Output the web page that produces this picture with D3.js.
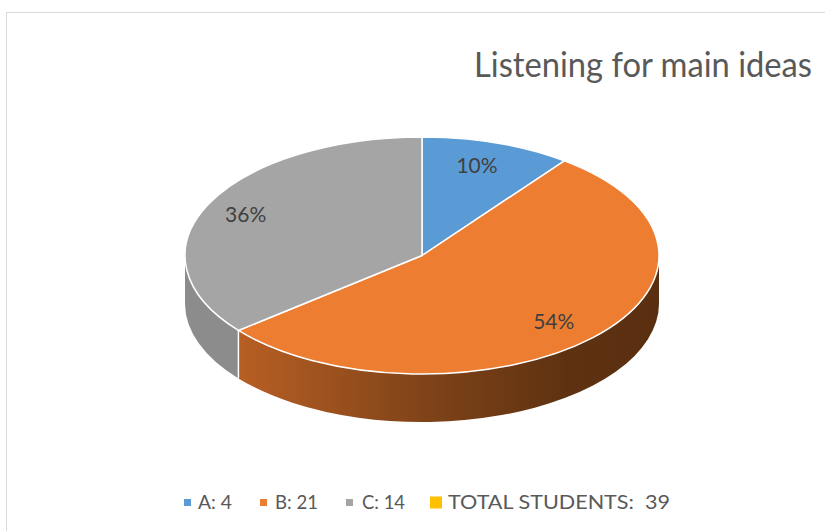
<!DOCTYPE html>
<html>
<head>
<meta charset="utf-8">
<script src="https://cdn.jsdelivr.net/npm/d3@7"></script>
<style>
  html, body { margin: 0; padding: 0; background: #fff; }
  svg { display: block; }
  text { font-family: "Lato", "Open Sans", sans-serif; white-space: pre; }
</style>
</head>
<body>
<svg id="chart" width="825" height="531"></svg>
<script>
// ---- data ----
const title = "Listening for main ideas";
const categories = ["A", "B", "C", "TOTAL STUDENTS"];
const values = [4, 21, 14, 39];
const legendLabels = ["A: 4", "B: 21", "C: 14", "TOTAL STUDENTS:  39"];
const colors = ["#5B9BD5", "#ED7D31", "#A5A5A5", "#FFC000"];
const sliceCategories = ["A", "B", "C"]; // TOTAL is shown in legend only
const sliceValues = [4, 21, 14];

// ---- layout ----
const W = 825, H = 531;
const cx = 422, cy = 255.5, rx = 237, ry = 118.5, depth = 48;
const svg = d3.select("#chart");

// chart area border
svg.append("rect")
  .attr("x", 6.5).attr("y", 12.5).attr("width", 900).attr("height", 600)
  .attr("fill", "#fff").attr("stroke", "#D9D9D9").attr("stroke-width", 1);

const defs = svg.append("defs");
const gB = defs.append("linearGradient").attr("id", "sideB")
  .attr("gradientUnits", "userSpaceOnUse")
  .attr("x1", 237).attr("x2", 659).attr("y1", 0).attr("y2", 0);
gB.append("stop").attr("offset", 0).attr("stop-color", "#B85F24");
gB.append("stop").attr("offset", 0.45).attr("stop-color", "#7F4318");
gB.append("stop").attr("offset", 0.78).attr("stop-color", "#5E3211");
gB.append("stop").attr("offset", 1).attr("stop-color", "#5A2F10");
const sideFills = ["#3E6E9A", "url(#sideB)", "#8C8C8C"];

const pie = d3.pie().sort(null).value(d => d)
  .startAngle(0).endAngle(2 * Math.PI);
const arcs = pie(sliceValues);
const total = d3.sum(sliceValues);

const proj = (a, f = 1, dz = 0) => [cx + rx * f * Math.sin(a), cy - ry * f * Math.cos(a) + dz];

// side faces (front half only: angles between PI/2 and 3PI/2)
const gSide = svg.append("g");
arcs.forEach((d, i) => {
  const s0 = Math.max(d.startAngle, Math.PI / 2);
  const s1 = Math.min(d.endAngle, 3 * Math.PI / 2);
  if (s1 <= s0) return;
  const p0 = proj(s0), p1 = proj(s1);
  const q0 = proj(s0, 1, depth), q1 = proj(s1, 1, depth);
  const path = `M${p0[0]},${p0[1]} A${rx},${ry} 0 0 1 ${p1[0]},${p1[1]} L${q1[0]},${q1[1]} A${rx},${ry} 0 0 0 ${q0[0]},${q0[1]} Z`;
  gSide.append("path").attr("d", path).attr("fill", sideFills[i]);
});
// vertical edges on the front between slices
arcs.forEach(d => {
  const a = d.endAngle;
  if (a > Math.PI / 2 && a < 3 * Math.PI / 2) {
    const p = proj(a), q = proj(a, 1, depth);
    gSide.append("line").attr("x1", p[0]).attr("y1", p[1]).attr("x2", q[0]).attr("y2", q[1])
      .attr("stroke", "#fff").attr("stroke-width", 1.5);
  }
});

// top faces
const gTop = svg.append("g");
arcs.forEach((d, i) => {
  const p0 = proj(d.startAngle), p1 = proj(d.endAngle);
  const large = (d.endAngle - d.startAngle) > Math.PI ? 1 : 0;
  const path = `M${cx},${cy} L${p0[0]},${p0[1]} A${rx},${ry} 0 ${large} 1 ${p1[0]},${p1[1]} Z`;
  gTop.append("path").attr("d", path).attr("fill", colors[i])
    .attr("stroke", "#fff").attr("stroke-width", 1.5).attr("stroke-linejoin", "round");
});

// data labels
const fmt = d3.format(".0%");
arcs.forEach((d, i) => {
  const mid = (d.startAngle + d.endAngle) / 2;
  const p = proj(mid, 0.8);
  gTop.append("text")
    .attr("x", p[0] - 5).attr("y", p[1]).attr("dy", "0.35em")
    .attr("text-anchor", "middle")
    .attr("font-size", 21).attr("fill", "#404040")
    .text(fmt(d.value / total));
});

// helper to fit text width
function fit(sel, target) {
  sel.attr("textLength", target).attr("lengthAdjust", "spacingAndGlyphs");
}

// title
const t = svg.append("text")
  .attr("x", 474).attr("y", 77)
  .attr("font-size", 34).attr("fill", "#595959")
  .text(title);
fit(t, 338);

// legend
const legendItems = [
  {x: 184, size: 7, tx: 198, tw: 34},
  {x: 260, size: 7, tx: 275, tw: 43},
  {x: 346, size: 7, tx: 362, tw: 43},
  {x: 430, size: 12, tx: 448, tw: 222}
];
const gLeg = svg.append("g");
categories.forEach((c, i) => {
  const it = legendItems[i];
  gLeg.append("rect")
    .attr("x", it.x).attr("y", 502.5 - it.size / 2)
    .attr("width", it.size).attr("height", it.size)
    .attr("fill", colors[i]);
  const lt = gLeg.append("text")
    .attr("x", it.tx).attr("y", 509)
    .attr("font-size", 20).attr("fill", "#595959")
    .text(legendLabels[i]);
  fit(lt, it.tw);
});
</script>
</body>
</html>
